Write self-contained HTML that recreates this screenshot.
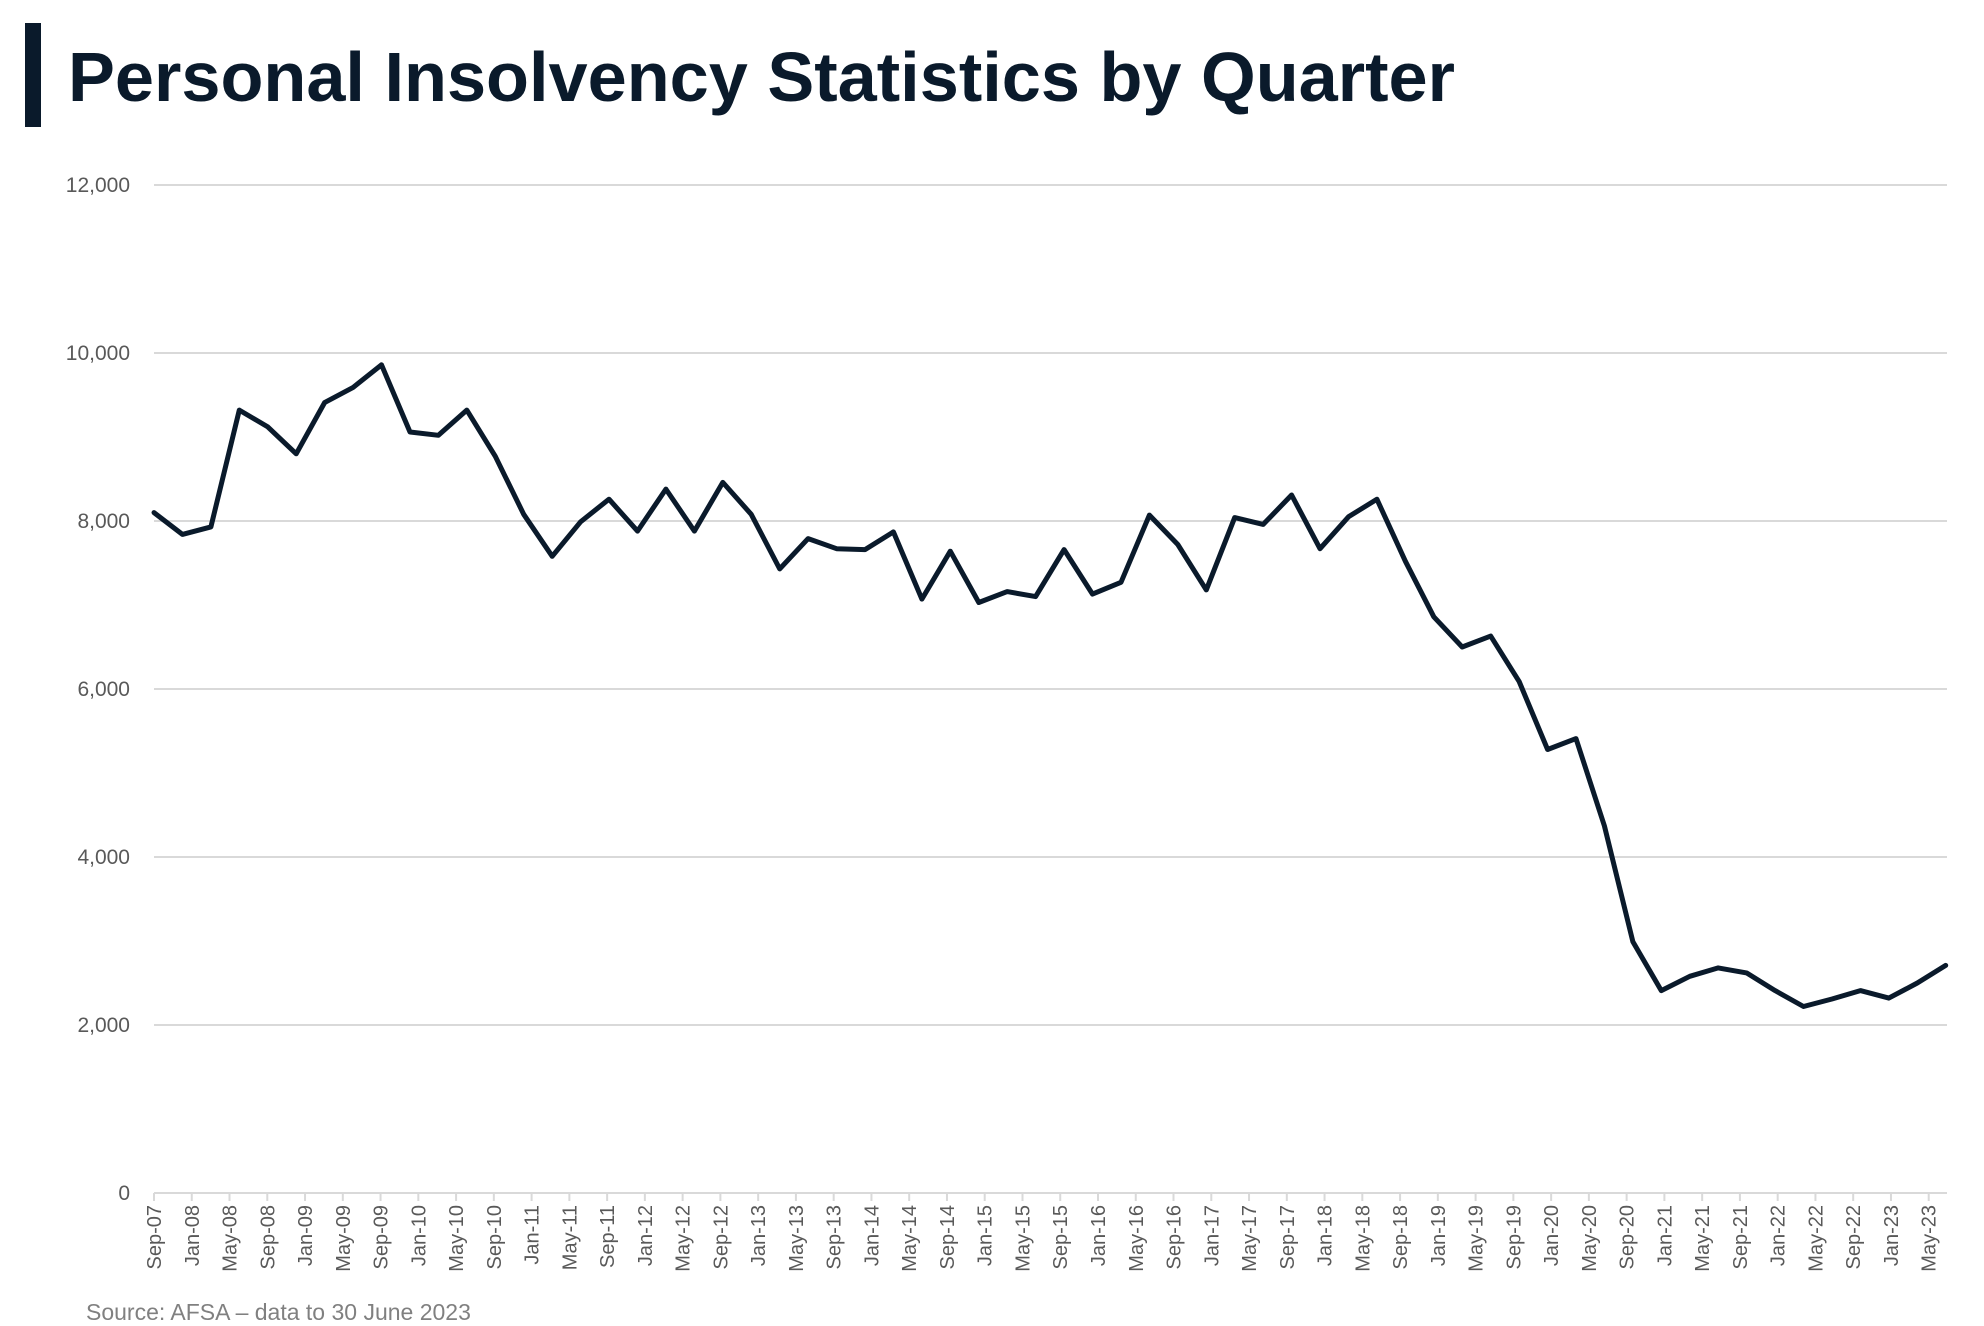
<!DOCTYPE html>
<html><head><meta charset="utf-8"><style>
html,body{margin:0;padding:0;background:#fff;}
svg{display:block;font-family:"Liberation Sans",sans-serif;}
</style></head><body>
<svg id="chart" width="1984" height="1326" viewBox="0 0 1984 1326">
<rect x="25" y="23" width="16" height="104" fill="#0a1a2b"/>
<text x="68" y="101" font-size="70" font-weight="bold" fill="#0a1a2b" textLength="1387" lengthAdjust="spacingAndGlyphs">Personal Insolvency Statistics by Quarter</text>
<g id="grid"></g><g id="xaxis"></g><g id="series"></g>
<text x="86" y="1320" font-size="23" fill="#808080">Source: AFSA – data to 30 June 2023</text>
</svg>
<script>
const yTicks=[0,2000,4000,6000,8000,10000,12000];
const xLabels=["Sep-07","Jan-08","May-08","Sep-08","Jan-09","May-09","Sep-09","Jan-10","May-10","Sep-10","Jan-11","May-11","Sep-11","Jan-12","May-12","Sep-12","Jan-13","May-13","Sep-13","Jan-14","May-14","Sep-14","Jan-15","May-15","Sep-15","Jan-16","May-16","Sep-16","Jan-17","May-17","Sep-17","Jan-18","May-18","Sep-18","Jan-19","May-19","Sep-19","Jan-20","May-20","Sep-20","Jan-21","May-21","Sep-21","Jan-22","May-22","Sep-22","Jan-23","May-23"];
const values=[8100,7840,7930,9320,9120,8800,9410,9590,9860,9060,9020,9320,8770,8080,7580,7990,8260,7880,8380,7880,8460,8080,7430,7790,7670,7660,7870,7070,7640,7030,7160,7100,7660,7130,7270,8070,7720,7180,8040,7960,8310,7670,8050,8260,7520,6860,6500,6630,6090,5280,5410,4370,2990,2410,2580,2680,2620,2410,2220,2310,2410,2320,2500,2710];
const NS='http://www.w3.org/2000/svg';
const x0=154,x1=1947,pxPerMonth=9.44,yZero=1193,yTop=185;
const yScale=v=>yZero-(v/12000)*(yZero-yTop);
const xMonth=m=>x0+m*pxPerMonth;
const xPoint=i=>x0+i*3*9.48;
function mk(tag,attrs,parent){const e=document.createElementNS(NS,tag);for(const k in attrs)e.setAttribute(k,attrs[k]);parent.appendChild(e);return e;}
const grid=document.getElementById('grid');
yTicks.forEach(v=>{
  const y=yScale(v);
  const l=mk('line',{x1:x0,x2:x1,y1:y,y2:y,stroke:'#d9d9d9','stroke-width':2},grid);
  
  
  const t=mk('text',{x:130,y:y+7,'font-size':21,fill:'#595959','text-anchor':'end'},grid);
  
  
  t.textContent=v.toLocaleString('en-US');
});
const xa=document.getElementById('xaxis');
xLabels.forEach((lab,i)=>{
  const x=xMonth(i*4);
  const tk=mk('line',{x1:x,x2:x,y1:yZero,y2:yZero+8,stroke:'#d9d9d9','stroke-width':2},xa);
  
  
  const t=mk('text',{x:0,y:0,'font-size':20,fill:'#595959','text-anchor':'end',transform:`translate(${x+7},${yZero+12}) rotate(-90)`},xa);
  
  
  t.textContent=lab;
});
const s=document.getElementById('series');
const pts=values.map((v,i)=>xPoint(i).toFixed(1)+','+yScale(v).toFixed(1)).join(' ');
const pl=mk('polyline',{points:pts,fill:'none',stroke:'#0a1a2b','stroke-width':5,'stroke-linejoin':'round','stroke-linecap':'round'},s);


</script>
</body></html>
